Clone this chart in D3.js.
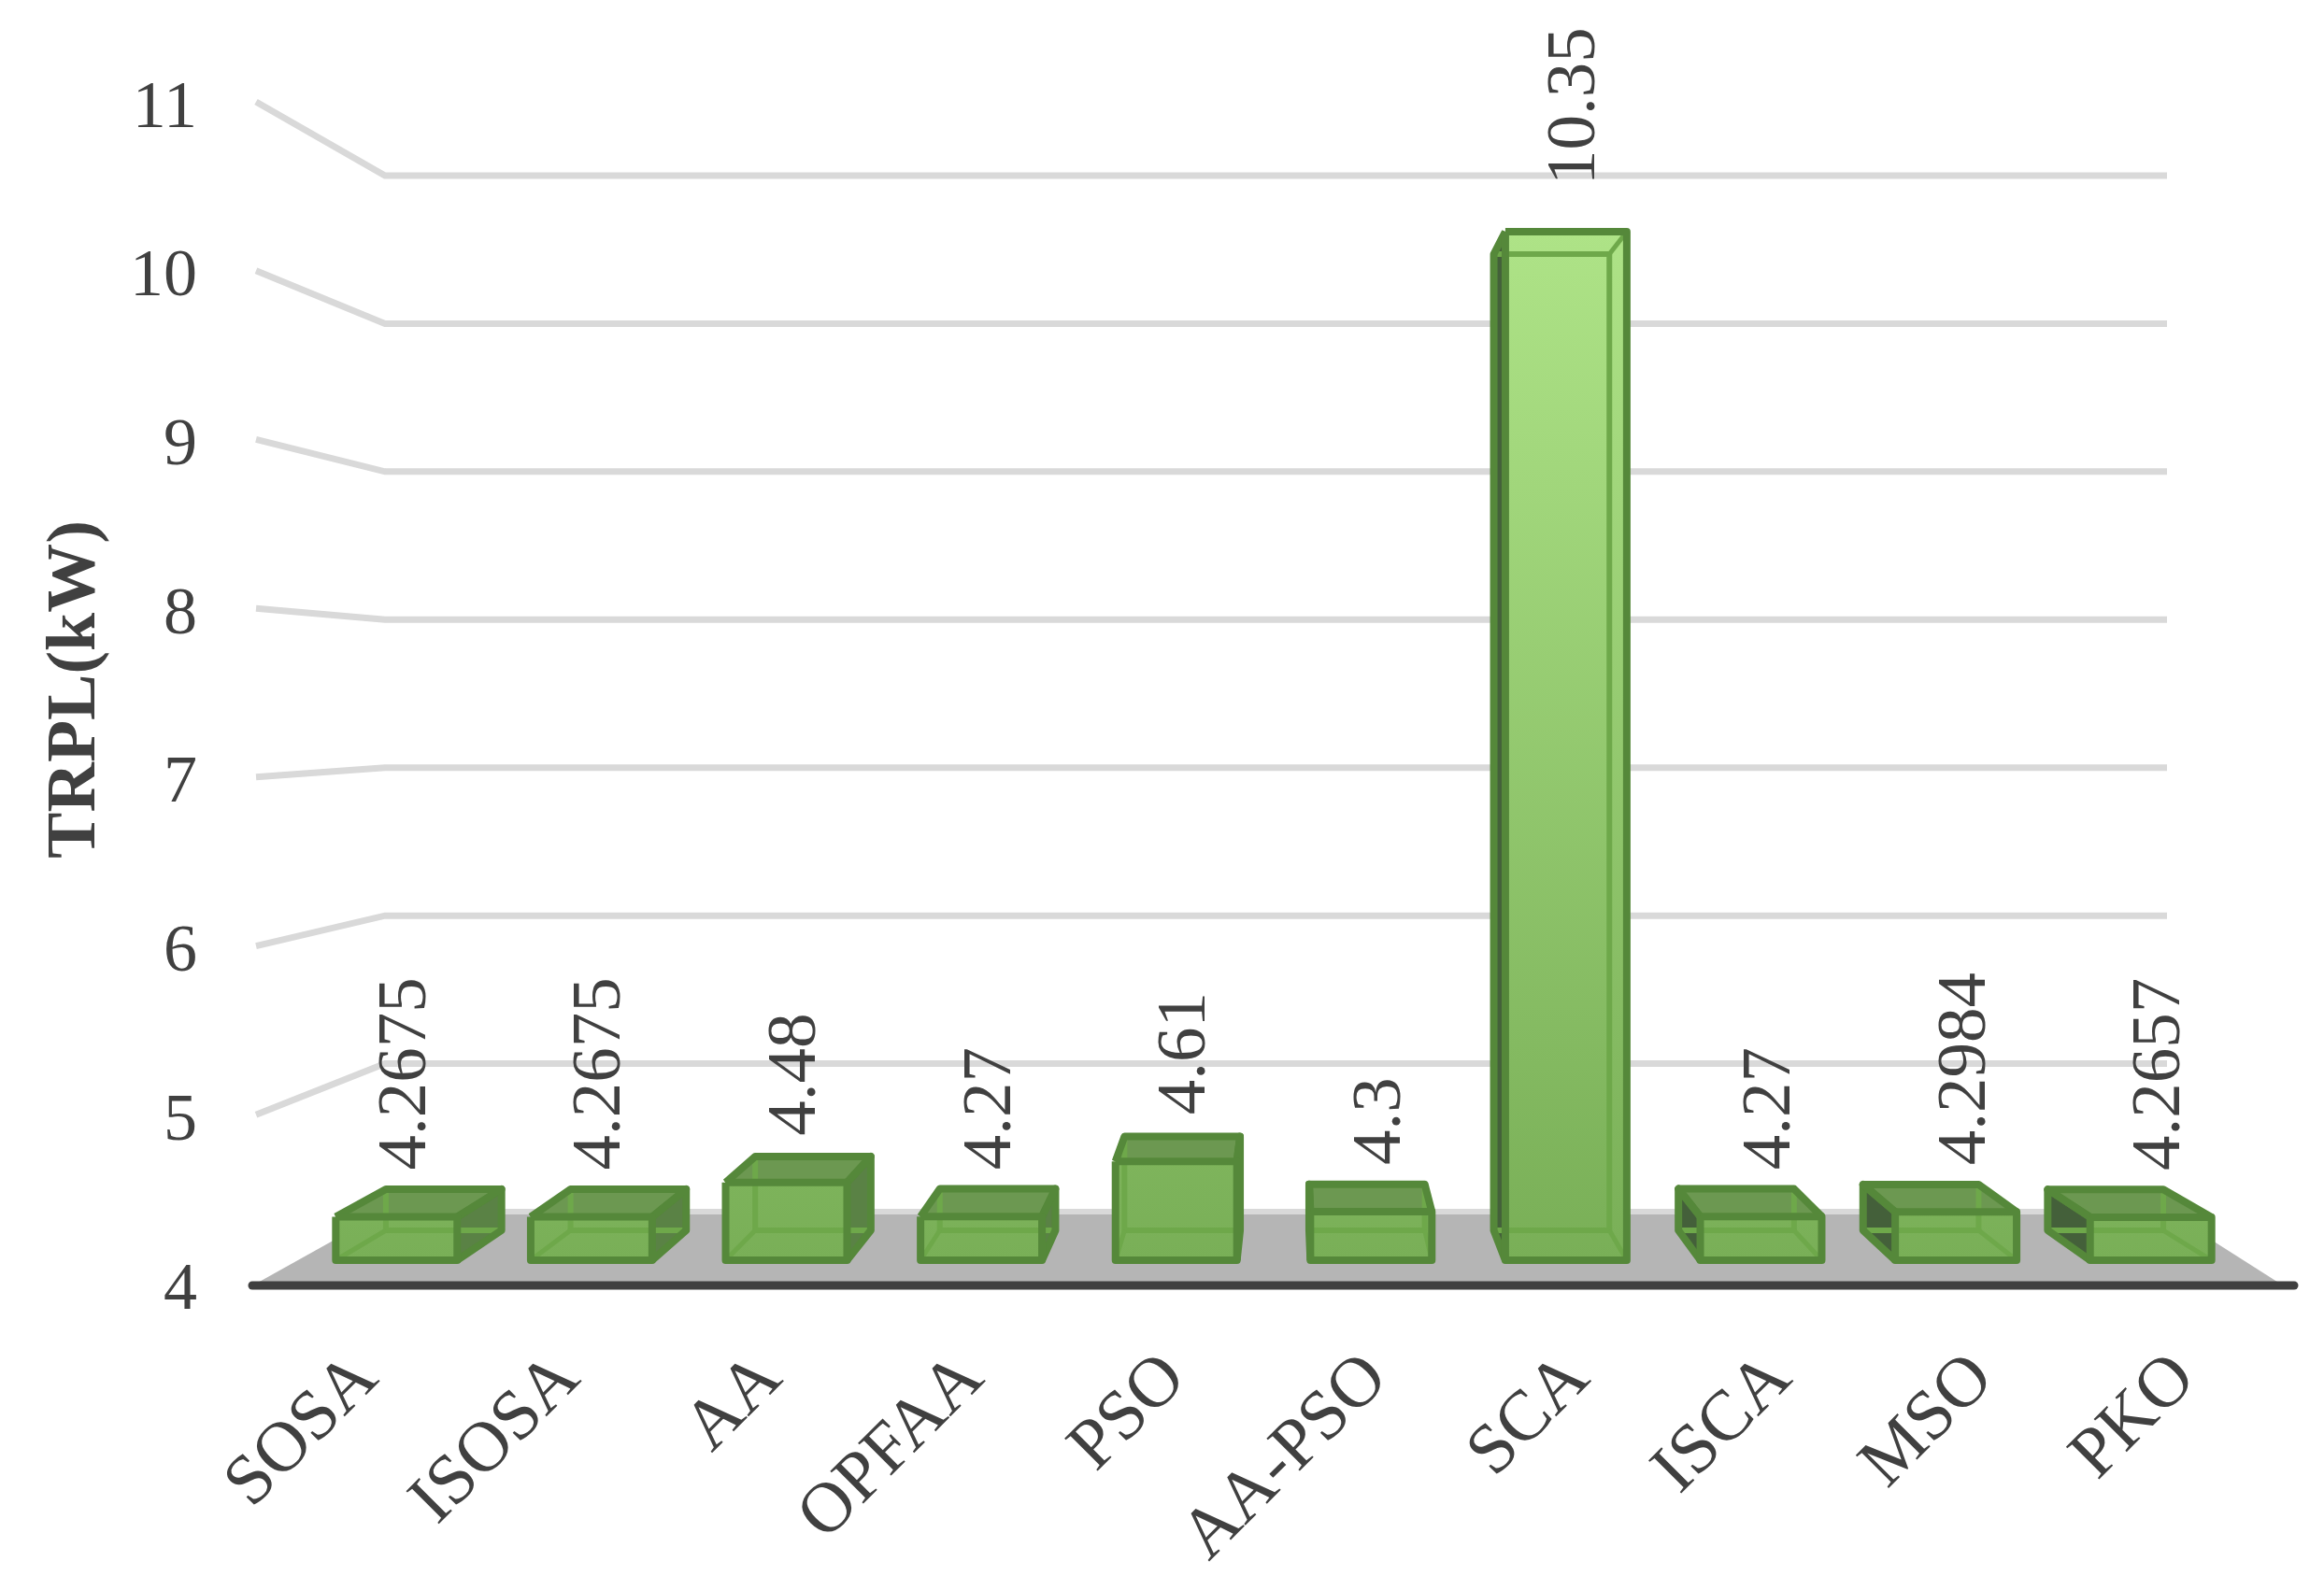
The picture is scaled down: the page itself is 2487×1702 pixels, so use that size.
<!DOCTYPE html>
<html>
<head>
<meta charset="utf-8">
<script src="https://cdn.jsdelivr.net/npm/d3@7"></script>
<style>
  body { margin: 0; background: #fff; }
  svg { filter: blur(0.6px); }
  text { font-family: "Liberation Serif", serif; fill: #404040; }
</style>
</head>
<body>
<svg id="chart" width="2487" height="1702"></svg>
<script>
const categories = ['SOSA', 'ISOSA', 'AA', 'OPFAA', 'PSO', 'AA-PSO', 'SCA', 'ISCA', 'MSO', 'PKO'];
const values = [4.2675, 4.2675, 4.48, 4.27, 4.61, 4.3, 10.35, 4.27, 4.2984, 4.2657];
const yTicks = [4, 5, 6, 7, 8, 9, 10, 11];

const svg = d3.select('#chart');

// the old 3D chart is rebuilt from planes: side wall, back wall, bar fronts, bar backs
const ySide = d3.scaleLinear().domain([4, 11]).range([1374, 109]);
const yWall = d3.scaleLinear().domain([4, 11]).range([1297, 188]);
const yFront = d3.scaleLinear().domain([4, 10.35]).range([1349, 248]);
const yBack = d3.scaleLinear().domain([4, 10.35]).range([1317, 272]);

const xFront = d3.scaleBand().domain(categories).range([320, 2406]).paddingInner(0.377).paddingOuter(0.1885);
const xBack = d3.scaleBand().domain(categories).range([376, 2352]).paddingInner(0.374).paddingOuter(0.187);
const xLabel = d3.scalePoint().domain(categories).range([407, 2352]);

const wallLeft = 274, wallStart = 412, wallEnd = 2319, floorEnd = 2440;

// gradient runs over the whole height so only the tall bar gets the light top
const grad = svg.append('defs').append('linearGradient')
  .attr('id', 'barFill')
  .attr('gradientUnits', 'userSpaceOnUse')
  .attr('x1', 0).attr('x2', 0)
  .attr('y1', yFront(10.35)).attr('y2', yFront(4));
grad.append('stop').attr('offset', '0%').attr('stop-color', '#aee387');
grad.append('stop').attr('offset', '100%').attr('stop-color', '#79af57');

// Floor
const floor = svg.append('g');
floor.append('polygon')
  .attr('points', [[wallLeft, ySide(4)], [wallStart, yWall(4)], [wallEnd, yWall(4)], [floorEnd, ySide(4)]].join(' '))
  .attr('fill', '#b5b5b5');
floor.append('line')
  .attr('x1', wallStart).attr('x2', wallEnd)
  .attr('y1', yWall(4)).attr('y2', yWall(4))
  .attr('stroke', '#d9d9d9').attr('stroke-width', 6);

// Grid
svg.append('g').selectAll('polyline')
  .data(yTicks.slice(1))
  .enter().append('polyline')
  .attr('points', d => [[wallLeft, ySide(d)], [wallStart, yWall(d)], [wallEnd, yWall(d)]].join(' '))
  .attr('fill', 'none')
  .attr('stroke', '#d9d9d9')
  .attr('stroke-width', 7);

// Front axis
svg.append('line')
  .attr('x1', 270).attr('x2', 2455)
  .attr('y1', ySide(4) + 2).attr('y2', ySide(4) + 2)
  .attr('stroke', '#404040').attr('stroke-width', 9)
  .attr('stroke-linecap', 'round');

// Bars
svg.append('g').selectAll('g')
  .data(categories.map((c, i) => ({ cat: c, val: values[i] })))
  .enter().append('g')
  .each(function(d) {
    const g = d3.select(this);
    const fx0 = xFront(d.cat), fx1 = fx0 + xFront.bandwidth();
    const bx0 = xBack(d.cat), bx1 = bx0 + xBack.bandwidth();
    const ft = yFront(d.val), fb = yFront(4);
    const bt = yBack(d.val), bb = yBack(4);
    const quad = (pts, fill) => g.append('polygon').attr('points', pts.join(' ')).attr('fill', fill);
    const edge = (pts, color, w) => g.append('polyline').attr('points', pts.join(' '))
      .attr('fill', 'none').attr('stroke', color).attr('stroke-width', w).attr('stroke-linejoin', 'round');

    const leftQuad = [[fx0, ft], [bx0, bt], [bx0, bb], [fx0, fb]];
    const rightQuad = [[fx1, ft], [bx1, bt], [bx1, bb], [fx1, fb]];
    const topQuad = [[fx0, ft], [bx0, bt], [bx1, bt], [fx1, ft]];

    if (bx0 < fx0) quad(leftQuad, '#44603a');
    if (bx1 > fx1) quad(rightQuad, '#5a8245');
    if (bt < ft) quad(topQuad, '#6c9851');

    g.append('rect')
      .attr('x', fx0).attr('y', ft)
      .attr('width', fx1 - fx0).attr('height', fb - ft)
      .attr('fill', 'url(#barFill)');

    // edges seen through the glass
    const inner = '#6ea84a';
    edge([[bx0, bt], [bx1, bt], [bx1, bb], [bx0, bb], [bx0, bt]], inner, 6);
    edge([[fx0, fb], [bx0, bb]], inner, 5);
    edge([[fx1, fb], [bx1, bb]], inner, 5);
    edge([[fx0, ft], [bx0, bt]], inner, 5);
    edge([[fx1, ft], [bx1, bt]], inner, 5);

    // outer edges
    const outer = '#55883a';
    if (bx0 < fx0) edge(leftQuad, outer, 8);
    if (bx1 > fx1) edge(rightQuad, outer, 8);
    if (bt < ft) edge(topQuad, outer, 8);
    edge([[fx0, ft], [fx1, ft], [fx1, fb], [fx0, fb], [fx0, ft]], outer, 8);
  });

// Value labels
svg.append('g').selectAll('text')
  .data(categories.map((c, i) => ({ cat: c, val: values[i] })))
  .enter().append('text')
  .attr('transform', d => `translate(${xFront(d.cat) + xFront.bandwidth() / 2 + 5},${yFront(d.val) - 50}) rotate(-90)`)
  .attr('dominant-baseline', 'central')
  .attr('font-size', 75)
  .text(d => d.val);

// Y axis labels
const yAxis = d3.axisLeft(ySide).tickValues(yTicks).tickSize(0).tickPadding(63).tickFormat(d3.format('d'));
const yAxisG = svg.append('g').attr('transform', `translate(${wallLeft},3)`).call(yAxis);
yAxisG.select('.domain').remove();
yAxisG.selectAll('text').attr('font-size', 72).style('font-family', '"Liberation Serif", serif').attr('fill', '#404040');

// Category labels
svg.append('g').selectAll('text')
  .data(categories)
  .enter().append('text')
  .attr('transform', d => `translate(${xLabel(d)},1478) rotate(-45)`)
  .attr('text-anchor', 'end')
  .attr('font-size', 76)
  .text(d => d);

// Y title
svg.append('text')
  .attr('transform', 'translate(76,738) rotate(-90)')
  .attr('text-anchor', 'middle')
  .attr('dominant-baseline', 'central')
  .attr('font-size', 74)
  .attr('font-weight', 'bold')
  .text('TRPL(kW)');
</script>
</body>
</html>
